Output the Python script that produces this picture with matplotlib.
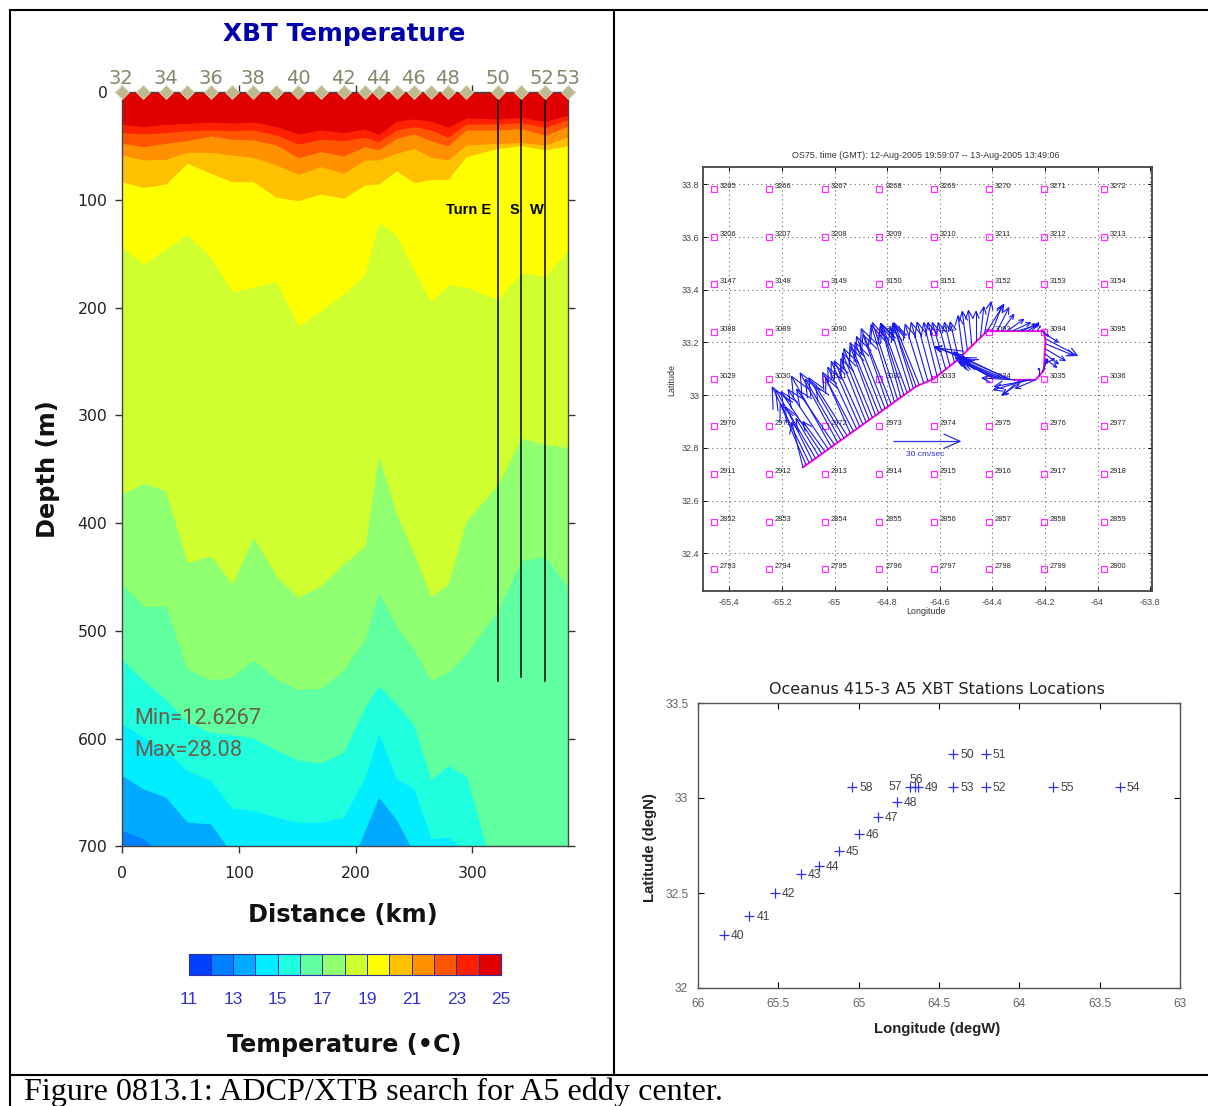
import matplotlib
matplotlib.use("Agg")
import matplotlib.pyplot as plt
from matplotlib.lines import Line2D
from matplotlib.collections import LineCollection
from matplotlib.colors import ListedColormap, BoundaryNorm
import numpy as np

W, H = 1208, 1106

# ---------- XBT section ----------
station_km = [0, 18.3, 37.4, 55.9, 75.9, 94.2, 112.4, 132.1, 150.9, 170, 189.7, 208, 219.7,
              235.1, 249.9, 264.5, 279, 294.7, 322.1, 341.5, 362.3, 382]
station_ticks = {32: 0, 34: 2, 36: 4, 38: 6, 40: 8, 42: 10, 44: 12, 46: 14, 48: 16, 50: 18, 52: 20, 53: 21}
iso_25 = [29.7, 31.9, 29.7, 28.8, 27.5, 28.5, 27.5, 31.9, 38.7, 35, 37.4, 34, 39.3, 26.6, 24.8, 26.6, 32.5, 23.8, 24.8, 23.2, 27.2, 21]
iso_24 = [37.4, 38.7, 37.4, 35.6, 35, 35.6, 35, 39.6, 48, 43.6, 44.9, 41.8, 45.8, 35, 31.9, 35, 41.8, 29.4, 29.4, 28.2, 32.5, 25.1]
iso_23 = [47.4, 50.4, 47.4, 44.9, 40.5, 43.6, 44.3, 48.9, 60.7, 55.1, 59.1, 50.4, 53.5, 42.7, 38.7, 44.9, 49.8, 35, 35, 33.7, 39.9, 31.3]
iso_22 = [58.2, 62.8, 62.2, 55.7, 55.7, 58.2, 60.3, 67.5, 76.1, 69, 75.2, 62.8, 62.8, 56.6, 52, 60.3, 62.8, 48.9, 47.4, 46.7, 48.9, 41.2]
iso_21 = [83, 88.5, 85.1, 65.9, 75.2, 83, 83, 97.5, 100.6, 94.4, 98.4, 86, 85.1, 73, 83.9, 80.8, 80.8, 59.7, 52, 49.5, 53.5, 49.5]
iso_20 = [144.4, 159.3, 145.3, 132, 153.1, 185.1, 181, 175.5, 216.8, 202.8, 187.3, 168.6, 120.5, 132.9, 165.5, 194.1, 178.9, 181, 192.5, 167.1, 170.8, 146.3]
iso_19 = [373.1, 362.9, 370, 436.5, 430.3, 456.6, 413.3, 448.8, 468.9, 458.1, 438, 421, 337.6, 391.7, 428.7, 468, 456.6, 397.8, 363.8, 321, 327, 330]
iso_18 = [456, 477.3, 477.3, 535.4, 545.6, 543.1, 527, 544.7, 554.6, 553.3, 536.9, 507.6, 464.3, 496.8, 516.8, 546.2, 538.5, 521.5, 479.8, 434.9, 430.9, 460.3]
iso_17 = [527, 546.2, 563.2, 584.9, 594.1, 596.3, 599.4, 611.1, 619.8, 622.9, 612.7, 570.9, 550.9, 567.9, 587.9, 638.3, 625, 634.3, 741, 760, 760, 760]
iso_16 = [586.4, 598.8, 611.1, 629.7, 639, 664.3, 666.8, 673, 677.6, 677.6, 673, 635.9, 595.7, 637.4, 646.7, 693, 691.5, 704, 760, 760, 760, 760]
iso_15 = [634.3, 646.7, 654.4, 677.6, 679.2, 706.7, 760, 760, 760, 760, 733, 685, 654.4, 675.7, 706.7, 760, 760, 760, 760, 760, 760, 760]
iso_14 = [685.3, 693, 711.3, 760, 760, 760, 760, 760, 760, 760, 760, 760, 760, 760, 760, 760, 760, 760, 760, 760, 760, 760]
isotherms = [iso_25, iso_24, iso_23, iso_22, iso_21, iso_20, iso_19, iso_18, iso_17, iso_16, iso_15, iso_14]
band_colors = ["#e00000", "#ff2000", "#ff5500", "#ff9000", "#ffc000", "#ffff00", "#d0ff30",
               "#90ff70", "#60ff9f", "#20ffdd", "#00eeff", "#00aaff"]
bottom_color = "#0080ff"
turn_km = [322.1, 341.5, 362.3]
turn_end = [547, 543, 547]
turn_names = ["Turn E", "S", "W"]
cbar_colors = ["#0040ff", "#0080ff", "#00aaff", "#00eeff", "#20ffdd", "#60ff9f", "#90ff70",
               "#d0ff30", "#ffff00", "#ffc000", "#ff9000", "#ff5500", "#ff2000", "#e00000"]
cbar_bounds = [11, 12, 13, 14, 15, 16, 17, 18, 19, 20, 21, 22, 23, 24, 25]
cbar_ticks = [11, 13, 15, 17, 19, 21, 23, 25]

# ---------- ADCP panel ----------
grid_lons = [-65.458, -65.249, -65.038, -64.829, -64.622, -64.412, -64.203, -63.977]
grid_lats = [33.782, 33.601, 33.421, 33.24, 33.06, 32.882, 32.70, 32.52, 32.34]
grid_first_id = [3265, 3206, 3147, 3088, 3029, 2970, 2911, 2852, 2793]
track_lon = [-65.12, -64.69, -64.623, -64.534, -64.420, -64.204, -64.198, -64.204, -64.236, -64.318]
track_lat = [32.726, 33.033, 33.062, 33.132, 33.243, 33.243, 33.208, 33.094, 33.058, 33.058]
adcp_lon = [-65.120, -65.108, -65.096, -65.084, -65.072, -65.060, -65.048, -65.036, -65.024, -65.012,
            -65.000, -64.988, -64.976, -64.964, -64.952, -64.940, -64.928, -64.916, -64.904, -64.892,
            -64.880, -64.868, -64.856, -64.844, -64.832, -64.820, -64.808, -64.796, -64.784, -64.772,
            -64.760, -64.748, -64.736, -64.724, -64.712, -64.700, -64.690,
            -64.678, -64.661, -64.645, -64.628, -64.610, -64.594, -64.577, -64.561, -64.544, -64.528,
            -64.511, -64.495, -64.478, -64.462, -64.445, -64.430, -64.420,
            -64.401, -64.382, -64.363, -64.344, -64.325, -64.306, -64.287, -64.268, -64.249, -64.230, -64.211,
            -64.200, -64.198, -64.198, -64.199, -64.200, -64.200, -64.202, -64.204, -64.211, -64.223,
            -64.236, -64.253, -64.268, -64.280, -64.296, -64.312,
            -64.325, -64.338, -64.350, -64.363, -64.376, -64.388, -64.401, -64.420, -64.439, -64.458,
            -64.477, -64.496, -64.522, -64.528, -64.509]
adcp_lat = [32.726, 32.735, 32.743, 32.752, 32.760, 32.769, 32.777, 32.786, 32.795, 32.803,
            32.812, 32.820, 32.829, 32.837, 32.846, 32.855, 32.863, 32.872, 32.880, 32.889,
            32.897, 32.906, 32.915, 32.923, 32.932, 32.940, 32.949, 32.957, 32.966, 32.975,
            32.983, 32.992, 33.000, 33.009, 33.017, 33.026, 33.033,
            33.039, 33.046, 33.053, 33.061, 33.072, 33.085, 33.098, 33.110, 33.124, 33.138,
            33.155, 33.171, 33.188, 33.204, 33.221, 33.233, 33.243,
            33.243, 33.243, 33.243, 33.243, 33.243, 33.243, 33.243, 33.243, 33.243, 33.243, 33.243,
            33.233, 33.214, 33.195, 33.176, 33.157, 33.138, 33.119, 33.100, 33.087, 33.071,
            33.058, 33.058, 33.058, 33.058, 33.058, 33.058,
            33.058, 33.060, 33.061, 33.062, 33.063, 33.065, 33.066, 33.075, 33.087, 33.100,
            33.113, 33.126, 33.145, 33.151, 33.167]
adcp_u = [-5.0, -11.6, -16.6, -12.0, -17.9, -10.2, -18.3, -9.9, -18, -17.9,
          -17, -16.8, -15.9, -15.8, -14.1, -11, -13.8, -12.9, -12.8, -12.8,
          -11.3, -12, -12.8, -11.3, -12.8, -12, -12.8, -11.3, -13.5, -10.5,
          -11.3, -9, -10.5, -11.3, -9, -9, -10.5,
          -11.3, -8.3, -7.5, -6.8, -6, -6, -6, -5.3, -4.5, -3.8,
          -2.3, -2.3, -1.5, 0, 1.5, 3, 7.5,
          4.5, 5.3, 5.3, 7.5, 8.3, 9.8, 6, 5.3, 3, 1.5, 3,
          6, 14.3, 12.8, 9, 6, 5.3, 4.5, 1.5, 2.3, 0,
          -9, -16.5, -15, -9.8, -7.5, -15,
          -21, -20.3, -19.5, -18.8, -18, -16.5, -16.5, -13.5, -11.3, -9,
          -8.3, -6, -11.3, -10.5, -12.8]
adcp_v = [20.2, 27.5, 34.0, 24.0, 30.6, 16.8, 27.9, 13.4, 26.7, 31.7,
          24.8, 31.2, 27.3, 27, 22.2, 25, 26.3, 27.6, 29.3, 28.5,
          28.5, 30, 30.8, 30.8, 31.5, 30.8, 32.3, 32.3, 33.8, 34.5,
          34.5, 32.3, 32.3, 30.8, 28.5, 28.5, 28.5,
          27.8, 26.3, 26.3, 25.5, 24, 22.5, 21, 19.5, 18, 16.5,
          17.3, 17.3, 15.8, 13.5, 13.5, 14.3, 12,
          11.3, 10.5, 7.5, 5.3, 3.8, 3, 3, 3, 3.8, 2.3, -2.3,
          -3.8, -7.5, -5.3, -5.3, -4.5, -3.8, 2.3, 4.5, 5.3, 3.8,
          -3.8, -3, -4.5, -6.8, -6.8, 0.8,
          9, 9.8, 8.3, 7.5, 9, 7.5, 9, 8.3, 7.5, 6.8,
          5.3, 4.5, 4.5, 3.8, 1.5]
ref_lon, ref_lat, ref_speed = -64.777, 32.825, 30
adcp_lon_ticks = [-65.4, -65.2, -65, -64.8, -64.6, -64.4, -64.2, -64, -63.8]
adcp_lat_ticks = [32.4, 32.6, 32.8, 33, 33.2, 33.4, 33.6, 33.8]

# ---------- XBT station map ----------
xbt_id = [40, 41, 42, 43, 44, 45, 46, 47, 48, 49, 50, 51, 52, 53, 54, 55, 56, 57, 58]
xbt_lon = [65.84, 65.68, 65.52, 65.36, 65.25, 65.125, 65.0, 64.88, 64.76, 64.63, 64.41, 64.21,
           64.21, 64.41, 63.375, 63.79, 64.65, 64.68, 65.04]
xbt_lat = [32.28, 32.38, 32.5, 32.6, 32.64, 32.72, 32.81, 32.9, 32.98, 33.06, 33.23, 33.23,
           33.06, 33.06, 33.06, 33.06, 33.06, 33.06, 33.06]
map_lon_ticks = [66, 65.5, 65, 64.5, 64, 63.5, 63]
map_lat_ticks = [32, 32.5, 33, 33.5]


def fx(px):
    return px / W


def fy(py):
    return 1 - py / H


def add_axes(x0, y0, x1, y1):
    return fig.add_axes([fx(x0), fy(y1), (x1 - x0) / W, (y1 - y0) / H])


def ftext(px, py, s, **kw):
    kw.setdefault("ha", "center")
    kw.setdefault("va", "center")
    fig.text(fx(px), fy(py), s, **kw)


def arrow_segments(lon, lat, u, v, scale=118.0, head=0.27, angle=24.0):
    base = np.column_stack([lon, lat]).astype(float)
    d = np.column_stack([u, v]).astype(float) / scale
    tip = base + d
    t = np.radians(angle)
    rot = [np.array([[np.cos(s), -np.sin(s)], [np.sin(s), np.cos(s)]]) for s in (t, -t)]
    segs = [np.stack([base, tip], axis=1)]
    for r in rot:
        segs.append(np.stack([tip, tip - head * d @ r.T], axis=1))
    return np.concatenate(segs)


fig = plt.figure(figsize=(W / 100, H / 100), dpi=100, facecolor="white")

# table rules
for xs, ys in [((10, 1208), (10, 10)), ((10, 1208), (1075, 1075)), ((10, 10), (10, 1106)), ((614, 614), (10, 1075))]:
    fig.add_artist(Line2D([fx(v) for v in xs], [fy(v) for v in ys], color="black", lw=1.5))

# ---------- left panel ----------
ax = add_axes(122, 92.3, 568.3, 846.3)
ax.set_xlim(0, 382)
ax.set_ylim(700, 0)
ax.set_facecolor(bottom_color)
for depth, col in zip(reversed(isotherms), reversed(band_colors)):
    ax.fill_between(station_km, 0, depth, color=col, lw=0)
for km, end in zip(turn_km, turn_end):
    ax.plot([km, km], [0, end], color="black", lw=1.1)
ax.plot(station_km, [0] * len(station_km), ls="none", marker="D", ms=7, mfc="#bdb98f", mec="#d8d6b8",
        mew=0.6, clip_on=False, zorder=5)
ax.set_xticks([0, 100, 200, 300])
ax.set_yticks([0, 100, 200, 300, 400, 500, 600, 700])
ax.tick_params(length=5, width=1, color="#333333", labelsize=11.3, labelcolor="#222222",
               top=True, right=True, direction="out")
ax.tick_params(axis="x", pad=9.5)
ax.tick_params(axis="y", pad=5.5)
for s in ax.spines.values():
    s.set_color("#444444")
    s.set_linewidth(1)
for lab, i in station_ticks.items():
    ftext(122 + station_km[i] * 1.168 + (-1 if lab == 32 else 0) + (-3 if lab == 52 else 0), 78, str(lab),
          color="#85856a", fontsize=14)
ftext(469, 210, turn_names[0], fontsize=10.5, fontweight="bold", color="black", family="Liberation Sans")
ftext(514, 210, turn_names[1], fontsize=10.5, fontweight="bold", color="black", family="Liberation Sans")
ftext(537, 210, turn_names[2], fontsize=10.5, fontweight="bold", color="black", family="Liberation Sans")
ftext(134, 718, "Min=12.6267", ha="left", fontsize=15.7, color="#6b5f45", family="Roboto")
ftext(134, 750, "Max=28.08", ha="left", fontsize=15.7, color="#6b5f45", family="Roboto")
ftext(344, 34, "XBT Temperature", fontsize=17.8, fontweight="bold", color="#0000aa")
ftext(48, 469, "Depth (m)", rotation=90, fontsize=17.4, fontweight="bold", color="#111111")
ftext(343, 915, "Distance (km)", fontsize=17.4, fontweight="bold", color="#111111")
ftext(344, 1045, "Temperature (\u2022C)", fontsize=17.2, fontweight="bold", color="#111111")

# colour bar
cax = add_axes(188.5, 954, 501, 975)
cmap = ListedColormap(cbar_colors)
cax.pcolormesh(cbar_bounds, [0, 1], [cbar_bounds[:-1]], cmap=cmap,
               norm=BoundaryNorm(cbar_bounds, cmap.N), edgecolors="#3030a0", linewidth=0.5)
cax.set_xlim(11, 25)
cax.set_yticks([])
cax.set_xticks(cbar_ticks)
cax.tick_params(axis="x", length=0, labelsize=12.5, labelcolor="#3333cc", pad=12)
for lab in cax.get_xticklabels():
    lab.set_family("Liberation Sans")
for s in cax.spines.values():
    s.set_color("#3030a0")

# caption
ftext(24, 1092, "Figure 0813.1: ADCP/XTB search for A5 eddy center.", ha="left", fontsize=23.1,
      family="Liberation Serif", color="black")

# ---------- ADCP panel ----------
a2 = add_axes(703, 166.7, 1151.7, 590.7)
a2.set_xlim(-65.5, -63.794)
a2.set_ylim(32.258, 33.867)
a2.set_xticks(adcp_lon_ticks)
a2.set_yticks(adcp_lat_ticks)
a2.set_xticklabels(["-65.4", "-65.2", "-65", "-64.8", "-64.6", "-64.4", "-64.2", "-64", "-63.8"])
a2.set_yticklabels(["32.4", "32.6", "32.8", "33", "33.2", "33.4", "33.6", "33.8"])
a2.grid(True, color="#666666", ls=(0, (1, 3)), lw=0.8)
a2.set_axisbelow(True)
a2.tick_params(direction="in", length=3, width=0.7, labelsize=6.5, labelcolor="#444444", top=True, right=True)
a2.tick_params(axis="x", pad=5)
a2.tick_params(axis="y", pad=2.5)
for lab in a2.get_xticklabels() + a2.get_yticklabels():
    lab.set_family("Liberation Sans")
for s in a2.spines.values():
    s.set_color("#444444")
    s.set_linewidth(1.3)
for j, lat in enumerate(grid_lats):
    for i, lon in enumerate(grid_lons):
        a2.plot([lon], [lat], ls="none", marker="s", ms=5, mfc="none", mec="#ff30ff", mew=0.9)
        a2.annotate(str(grid_first_id[j] + i), (lon, lat), xytext=(4.3, 1.8), textcoords="offset points",
                    fontsize=5.4, va="center", color="#222222", family="Liberation Sans")
a2.plot(track_lon, track_lat, color="#ff00dd", lw=1.4, zorder=3)
a2.add_collection(LineCollection(arrow_segments(adcp_lon, adcp_lat, adcp_u, adcp_v), colors="#1818f0",
                                 linewidths=0.8, zorder=4))
a2.add_collection(LineCollection(arrow_segments([ref_lon], [ref_lat], [ref_speed], [0]), colors="#3030e0",
                                 linewidths=0.9, zorder=4))
ftext(925, 455, "30 cm/sec", fontsize=6, color="#3030e0", family="Liberation Sans")
ftext(926, 155, "OS75. time (GMT): 12-Aug-2005 19:59:07 -- 13-Aug-2005 13:49:06", fontsize=6.4,
      color="#333333", family="Liberation Sans")
ftext(926, 611, "Longitude", fontsize=6.4, color="#333333", family="Liberation Sans")
ftext(672, 380, "Latitude", rotation=90, fontsize=6.4, color="#333333", family="Liberation Sans")

# ---------- station map ----------
a3 = add_axes(698, 703, 1180, 988)
a3.set_xlim(66, 63)
a3.set_ylim(32, 33.5)
a3.set_xticks(map_lon_ticks)
a3.set_yticks(map_lat_ticks)
a3.set_xticklabels(["66", "65.5", "65", "64.5", "64", "63.5", "63"])
a3.set_yticklabels(["32", "32.5", "33", "33.5"])
a3.tick_params(direction="in", length=4, width=0.8, labelsize=8.6, labelcolor="#666666", top=True, right=True)
a3.tick_params(axis="x", pad=7)
a3.tick_params(axis="y", pad=7)
for lab in a3.get_xticklabels() + a3.get_yticklabels():
    lab.set_family("Liberation Sans")
for s in a3.spines.values():
    s.set_color("#555555")
    s.set_linewidth(1)
a3.plot(xbt_lon, xbt_lat, ls="none", marker="+", ms=7, mew=0.9, color="#3030f0")
for sid, lon, lat in zip(xbt_id, xbt_lon, xbt_lat):
    if sid == 56:
        kw = dict(xytext=(1, 4.5), ha="center")
    elif sid == 57:
        kw = dict(xytext=(-6, -0.5), ha="right")
    else:
        kw = dict(xytext=(5, -0.7), ha="left")
    a3.annotate(str(sid), (lon, lat), textcoords="offset points", fontsize=8.8, va="center",
                color="#444444", family="Liberation Sans", **kw)
ftext(937, 690, "Oceanus 415-3 A5 XBT Stations Locations", fontsize=11.5, color="#222222")
ftext(937, 1029, "Longitude (degW)", fontsize=10.7, color="#222222", fontweight="bold", family="Liberation Sans")
ftext(650, 848, "Latitude (degN)", rotation=90, fontsize=10.7, color="#222222", fontweight="bold",
      family="Liberation Sans")

fig.savefig("out.png", dpi=100, facecolor="white")
